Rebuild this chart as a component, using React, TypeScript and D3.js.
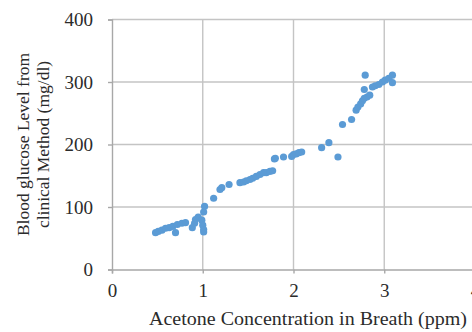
import { useEffect, useRef } from 'react';
import * as d3 from 'd3';

// acetone in breath (ppm) vs blood glucose (mg/dl)
const acetone = [
  0.48, 0.51, 0.55, 0.59, 0.63, 0.67, 0.70, 0.72, 0.77, 0.81,
  0.885, 0.91, 0.92, 0.95, 0.99, 1.0, 1.01, 1.01, 1.01, 1.02,
  1.12, 1.19, 1.21, 1.29, 1.41, 1.45, 1.48, 1.52, 1.55, 1.59,
  1.63, 1.67, 1.70, 1.74, 1.77, 1.79, 1.80, 1.89, 1.98, 2.0,
  2.03, 2.06, 2.09, 2.31, 2.39, 2.49, 2.54, 2.64, 2.69, 2.71,
  2.74, 2.76, 2.78, 2.81, 2.84, 2.78, 2.79, 2.87, 2.90, 2.94,
  2.98, 3.01, 3.05, 3.09, 3.09,
];
const glucose = [
  59, 61, 63, 66, 67, 69, 59, 72, 74, 75,
  67, 74, 80, 84, 79, 71, 64, 60, 92, 101,
  114, 128, 131, 136, 139, 140, 142, 144, 146, 149,
  152, 155, 155, 157, 158, 177, 178, 180, 181, 184,
  185, 187, 188, 195, 203, 180, 232, 240, 255, 260,
  265, 270, 274, 276, 279, 288, 311, 292, 294, 296,
  300, 303, 306, 311, 299,
];
const xTicks = [0, 1, 2, 3, 4];
const yTicks = [0, 100, 200, 300, 400];
const xTitle = 'Acetone Concentration in Breath (ppm)';
const yTitle = ['Blood glucose Level from', 'clinical Method (mg/dl)'];

export default function App() {
  const svgRef = useRef<SVGSVGElement>(null);

  useEffect(() => {
    if (!svgRef.current) return;
    const width = 472;
    const font = '"Liberation Serif", "Times New Roman", serif';
    const gridColor = '#c4c4c4';
    const textColor = '#2b2b2b';

    const svg = d3.select(svgRef.current);
    svg.selectAll('*').remove();

    const x = d3.scaleLinear().domain([0, 4]).range([112, 475]);
    const y = d3.scaleLinear().domain([0, 400]).range([269.5, 19.5]);

    const g = svg.append('g');

    // gridlines
    g.selectAll('line.hgrid')
      .data(yTicks.filter(d => d > 0)).join('line')
      .attr('class', 'hgrid')
      .attr('x1', x(0)).attr('x2', width)
      .attr('y1', d => y(d)).attr('y2', d => y(d))
      .attr('stroke', gridColor).attr('stroke-width', 1.4);
    g.selectAll('line.vgrid')
      .data(xTicks.filter(d => d > 0)).join('line')
      .attr('class', 'vgrid')
      .attr('x1', d => x(d)).attr('x2', d => x(d))
      .attr('y1', y(400)).attr('y2', y(0))
      .attr('stroke', gridColor).attr('stroke-width', 1.4);

    // axes
    g.append('g')
      .attr('transform', `translate(${x(0)},0)`)
      .call(d3.axisLeft(y).tickValues(yTicks).tickSize(4).tickPadding(15))
      .call(a => a.select('.domain').attr('stroke', '#a8a8a8').attr('stroke-width', 1.4))
      .call(a => a.selectAll('.tick line').attr('stroke', '#a8a8a8').attr('stroke-width', 1.4))
      .call(a => a.selectAll('.tick text')
        .attr('font-family', font).attr('font-size', 19).attr('fill', textColor));

    g.append('g')
      .attr('transform', `translate(0,${y(0)})`)
      .call(d3.axisBottom(x).tickValues(xTicks).tickSize(4).tickPadding(10).tickFormat(d3.format('d')))
      .call(a => a.select('.domain').attr('stroke', '#a8a8a8').attr('stroke-width', 1.4))
      .call(a => a.selectAll('.tick line').attr('stroke', '#a8a8a8').attr('stroke-width', 1.4))
      .call(a => a.selectAll('.tick text')
        .attr('font-family', font).attr('font-size', 19).attr('fill', textColor));

    // points
    const data = acetone.map((a, i) => ({ a, gl: glucose[i] }));
    g.selectAll('circle')
      .data(data).join('circle')
      .attr('cx', d => x(d.a))
      .attr('cy', d => y(d.gl))
      .attr('r', 3.6)
      .attr('fill', '#5b9bd5');

    // titles
    svg.append('text')
      .attr('x', 308).attr('y', 324.5)
      .attr('text-anchor', 'middle')
      .attr('font-family', font).attr('font-size', 18.5).attr('fill', textColor)
      .attr('textLength', 318).attr('lengthAdjust', 'spacingAndGlyphs')
      .text(xTitle);

    const yt = svg.append('text')
      .attr('transform', `translate(0,${(y(0) + y(400)) / 2}) rotate(-90)`)
      .attr('text-anchor', 'middle')
      .attr('font-family', font).attr('font-size', 17.5).attr('fill', textColor);
    yTitle.forEach((line, i) => {
      yt.append('tspan').attr('x', 0).attr('y', 29 + i * 20).text(line);
    });
  }, []);

  return (
    <svg
      ref={svgRef}
      width={472}
      height={332}
      style={{ position: 'absolute', left: 0, top: 0, background: '#fff' }}
    />
  );
}
